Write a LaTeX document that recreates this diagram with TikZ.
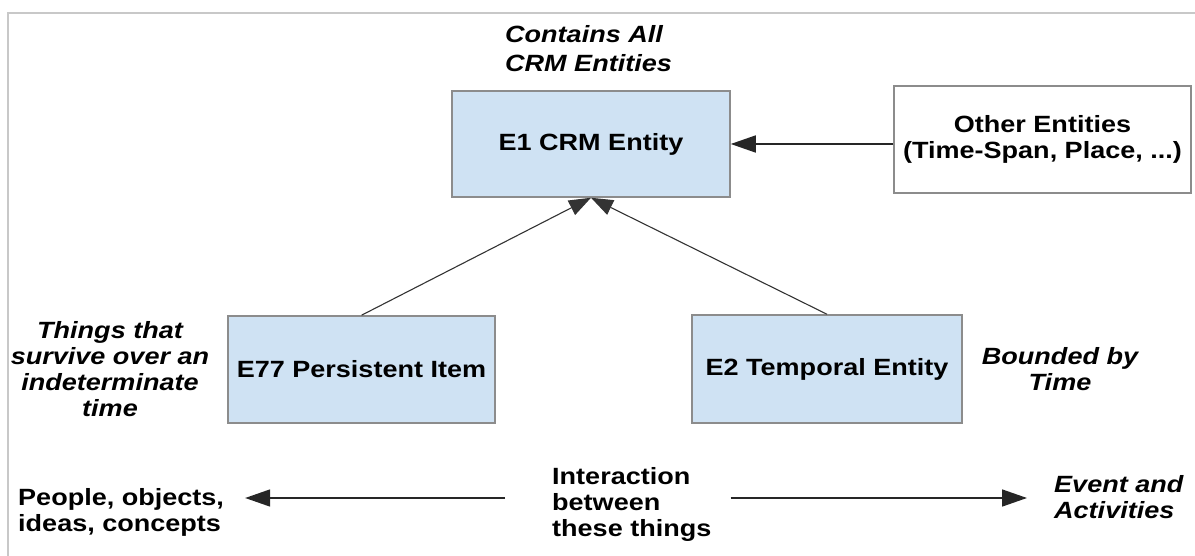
\documentclass[tikz,border=0pt]{standalone}
\usepackage{fontspec}
\setmainfont{Liberation Sans}[FakeStretch=1.15]
\usetikzlibrary{arrows.meta}
\definecolor{boxblue}{RGB}{207,226,243}
\definecolor{boxedge}{RGB}{140,140,140}
\definecolor{framegray}{RGB}{200,200,200}
\begin{document}
\begin{tikzpicture}[x=1pt,y=-1pt,
  every node/.style={font=\fontsize{23.5}{26}\selectfont, inner sep=0pt},
  entity/.style={draw=boxedge, line width=1.5pt, fill=boxblue, font=\fontsize{23.5}{26}\selectfont\bfseries},
  plainbox/.style={draw=boxedge, line width=1.5pt, fill=white, align=center, font=\fontsize{23.5}{26}\selectfont\bfseries},
  note/.style={font=\fontsize{23.5}{26}\selectfont\bfseries\itshape},
  lbl/.style={font=\fontsize{23.5}{26}\selectfont\bfseries, align=left},
  arr/.style={-{Triangle[length=25pt,width=17pt]}, line width=1.6pt, draw=black!85},
  thinarr/.style={-{Triangle[length=22pt,width=16pt]}, line width=1.1pt, draw=black!80}]
\useasboundingbox (0,0) rectangle (1195,556);
\draw[framegray, line width=2pt] (8,556) -- (8,13) -- (1195,13);

\node[entity, minimum width=278pt, minimum height=106pt] (e1) at (591,144) {E1 CRM Entity};
\node[plainbox, minimum width=297pt, minimum height=107pt] (other) at (1042.5,139.5) {Other Entities\\(Time-Span, Place, ...)};
\node[entity, minimum width=267pt, minimum height=107pt] (e77) at (361.5,369.5) {E77 Persistent Item};
\node[entity, minimum width=270pt, minimum height=108pt] (e2) at (827,369) {E2 Temporal Entity};

\node[note, align=left, anchor=west] (contains) at (505,49) {Contains All\\[3pt]CRM Entities};
\node[note, align=center] (things) at (110,369) {Things that\\survive over an\\indeterminate\\time};
\node[note, align=center] (bounded) at (1060,369) {Bounded by\\Time};
\node[lbl, anchor=west] (people) at (18,512) {People, objects,\\ideas, concepts};
\node[lbl, anchor=west] (inter) at (552,504) {Interaction\\between\\these things};
\node[note, align=left, anchor=west] (event) at (1054,497) {Event and\\Activities};

\coordinate (arrowy) at (0,498);
\coordinate (lstart) at ([xshift=-47pt]inter.west);
\coordinate (lend) at ([xshift=21pt]people.east);
\coordinate (rstart) at ([xshift=19pt]inter.east);
\coordinate (rend) at ([xshift=-27pt]event.west);

\draw[arr] (other.west |- e1.east) -- (e1.east);
\draw[thinarr] (e77.north) -- (e1.south);
\draw[thinarr] (e2.north) -- (e1.south);
\draw[arr] (lstart |- arrowy) -- (lend |- arrowy);
\draw[arr] (rstart |- arrowy) -- (rend |- arrowy);
\end{tikzpicture}
\end{document}
